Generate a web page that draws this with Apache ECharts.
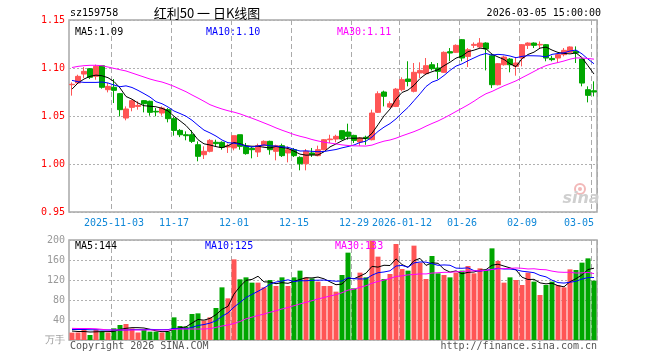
<!DOCTYPE html>
<html><head><meta charset="utf-8">
<script src="https://cdn.jsdelivr.net/npm/echarts@6/dist/echarts.min.js"></script>
<style>html,body{margin:0;padding:0;background:#fff}#c{width:660px;height:360px}</style>
</head><body><div id="c"></div>
<script>
// ---------- data ----------
const dates = [
 '2025-10-23','2025-10-24','2025-10-27','2025-10-28','2025-10-29','2025-10-30','2025-10-31',
 '2025-11-03','2025-11-04','2025-11-05','2025-11-06','2025-11-07','2025-11-10','2025-11-11','2025-11-12','2025-11-13','2025-11-14',
 '2025-11-17','2025-11-18','2025-11-19','2025-11-20','2025-11-21','2025-11-24','2025-11-25','2025-11-26','2025-11-27','2025-11-28',
 '2025-12-01','2025-12-02','2025-12-03','2025-12-04','2025-12-05','2025-12-08','2025-12-09','2025-12-10','2025-12-11','2025-12-12',
 '2025-12-15','2025-12-16','2025-12-17','2025-12-18','2025-12-19','2025-12-22','2025-12-23','2025-12-24','2025-12-25','2025-12-26',
 '2025-12-29','2025-12-30','2025-12-31','2026-01-05','2026-01-06','2026-01-07','2026-01-08','2026-01-09',
 '2026-01-12','2026-01-13','2026-01-14','2026-01-15','2026-01-16','2026-01-19','2026-01-20','2026-01-21','2026-01-22','2026-01-23',
 '2026-01-26','2026-01-27','2026-01-28','2026-01-29','2026-01-30','2026-02-02','2026-02-03','2026-02-04','2026-02-05','2026-02-06',
 '2026-02-09','2026-02-10','2026-02-11','2026-02-12','2026-02-13','2026-02-24','2026-02-25','2026-02-26','2026-02-27',
 '2026-03-02','2026-03-03','2026-03-04','2026-03-05'
];
const opens = [1.0826,1.0844,1.0937,1.0993,1.0913,1.1024,1.0774,1.0799,1.0733,1.0479,1.0590,1.0600,1.0660,1.0653,1.0549,1.0531,1.0566,1.0472,1.0350,1.0305,1.0305,1.0201,1.0097,1.0132,1.0226,1.0226,1.0177,1.0167,1.0305,1.0184,1.0163,1.0125,1.0191,1.0236,1.0132,1.0191,1.0115,1.0149,1.0069,1.0003,1.0115,1.0087,1.0149,1.0253,1.0260,1.0347,1.0333,1.0298,1.0229,1.0278,1.0253,1.0538,1.0750,1.0593,1.0600,1.0774,1.0885,1.0757,1.0948,1.0941,1.1034,1.1000,1.0955,1.1170,1.1163,1.1295,1.1121,1.1236,1.1219,1.1260,1.1128,1.0826,1.1034,1.1093,1.1017,1.1104,1.1236,1.1260,1.1240,1.1243,1.1100,1.1104,1.1139,1.1163,1.1173,1.1093,1.0774,1.0763];
const closes = [1.0830,1.0913,1.0965,1.0903,1.1017,1.0799,1.0809,1.0767,1.0566,1.0573,1.0660,1.0610,1.0628,1.0538,1.0542,1.0583,1.0472,1.0350,1.0305,1.0295,1.0236,1.0080,1.0132,1.0246,1.0212,1.0174,1.0191,1.0295,1.0184,1.0108,1.0149,1.0191,1.0236,1.0149,1.0191,1.0087,1.0149,1.0087,1.0003,1.0132,1.0097,1.0149,1.0253,1.0260,1.0288,1.0260,1.0288,1.0246,1.0271,1.0264,1.0531,1.0732,1.0705,1.0628,1.0780,1.0878,1.0860,1.0955,1.0975,1.1024,1.0993,1.0965,1.1163,1.1156,1.1236,1.1104,1.1190,1.1246,1.1260,1.1198,1.0826,1.1045,1.1114,1.1034,1.1052,1.1243,1.1260,1.1236,1.1246,1.1104,1.1087,1.1139,1.1184,1.1219,1.1156,1.0843,1.0715,1.0750];
const lows = [1.0712,1.0837,1.0896,1.0885,1.0878,1.0785,1.0746,1.0635,1.0496,1.0455,1.0549,1.0566,1.0538,1.0503,1.0497,1.0504,1.0434,1.0295,1.0280,1.0247,1.0219,1.0028,1.0052,1.0121,1.0184,1.0149,1.0115,1.0142,1.0149,1.0097,1.0059,1.0073,1.0184,1.0097,1.0038,1.0073,1.0017,1.0073,0.9934,0.9934,1.0073,1.0080,1.0142,1.0219,1.0226,1.0253,1.0253,1.0219,1.0190,1.0200,1.0246,1.0531,1.0600,1.0583,1.0593,1.0757,1.0809,1.0746,1.0896,1.0930,1.0975,1.0885,1.0948,1.1070,1.1156,1.1070,1.1010,1.1208,1.1208,1.0975,1.0791,1.0819,1.1024,1.0955,1.0920,1.1017,1.1198,1.1208,1.1208,1.1070,1.1070,1.1052,1.1121,1.1156,1.1052,1.0809,1.0642,1.0705];
const highs = [1.0850,1.0930,1.1010,1.1000,1.1035,1.1028,1.0844,1.0885,1.0740,1.0600,1.0670,1.0653,1.0665,1.0660,1.0583,1.0600,1.0583,1.0490,1.0364,1.0340,1.0351,1.0236,1.0184,1.0260,1.0253,1.0236,1.0212,1.0295,1.0305,1.0219,1.0177,1.0212,1.0246,1.0243,1.0201,1.0212,1.0184,1.0167,1.0080,1.0156,1.0167,1.0191,1.0260,1.0305,1.0305,1.0350,1.0420,1.0305,1.0280,1.0295,1.0566,1.0757,1.0764,1.0653,1.0792,1.0903,1.1070,1.1052,1.1059,1.1104,1.1062,1.1052,1.1173,1.1208,1.1246,1.1302,1.1208,1.1267,1.1312,1.1267,1.1149,1.1052,1.1128,1.1104,1.1114,1.1250,1.1267,1.1267,1.1277,1.1250,1.1128,1.1156,1.1208,1.1225,1.1225,1.1104,1.0809,1.0861];
const volumes = [14.7,15,21.3,10,21,16.7,15,23.3,30,32,23,15,20,16.7,16.7,15,16.7,45.3,28,26.7,52,53.3,38.7,45.3,64,105.3,83.3,161.3,121.3,125.3,114.7,114.7,105.3,120,108,125.3,108,125.3,138.7,125.3,123.3,116.7,108,108,96.7,130,174.7,103.3,134.7,125.3,198.7,166.7,122,132,192,142,138.7,188.7,154.7,122,168,133.3,130,125.3,134.7,138.7,148,133.3,143.3,140,183.3,158,114.7,125.3,120,110,134.7,116.7,90,110,116.7,110,105.3,141.3,140,154.7,163.3,118.7];
// moving-average values at the left edge (they depend on days before the window)
const priceMa5Head = [1.0780,1.0844,1.0885,1.0913];
const priceMa10Head = [1.0871,1.0857,1.0850,1.0850,1.0850,1.0854,1.0844,1.0823,1.0805];
const priceMa30Head = [1.1005,1.1017,1.1024,1.1028,1.1028,1.1024,1.1010,1.0996,1.0982,1.0969,1.0948,1.0927,1.0906,1.0885,1.0868,1.0854,1.0833,1.0809,1.0781,1.0753,1.0719,1.0687,1.0653,1.0618,1.0594,1.0573,1.0555,1.0540,1.0522];
const volMa5Head = [18,17,17,16];
const volMa10Head = [21,21,21,20.5,20.5,20,20,20,20];
const volMa30Head = [23.3,23,23,23,22.5,21.3,20,20,20,20,20,20,20,20,20,20,20,21.3,22,22,22,22,22,22.7,25.3,28,30,33,37];
const tickIdx = [7,17,27,37,47,55,65,75,87];
const tickLabels = ['2025-11-03','11-17','12-01','12-15','12-29','2026-01-12','01-26','02-09','03-05'];
const priceTicks = [0.95,1.00,1.05,1.10,1.15];
const volTicks = [0,40,80,120,160,200];
const volUnit = '万手';

// ---------- build ----------
function ma(arr, n, head){
  return arr.map((v,i)=>{
    if(i<head.length) return head[i];
    let s=0; for(let k=i-n+1;k<=i;k++) s+=arr[k];
    return +(s/n).toFixed(4);
  });
}
const pMa5=ma(closes,5,priceMa5Head), pMa10=ma(closes,10,priceMa10Head), pMa30=ma(closes,30,priceMa30Head);
const vMa5=ma(volumes,5,volMa5Head), vMa10=ma(volumes,10,volMa10Head), vMa30=ma(volumes,30,volMa30Head);
const last=a=>a[a.length-1];
const UP='#ff5555', DOWN='#00a600';
const kdata = opens.map((o,i)=>[o,closes[i],lows[i],highs[i]]);
const vdata = volumes.map((v,i)=>({value:v,itemStyle:{color: closes[i]>=opens[i]?UP:DOWN}}));
const tickSet = new Set(tickIdx);
const mono = "'DejaVu Sans Mono'";
const gridBorder='#a8a8a8';
const splitV = {show:true, interval:(i)=>tickSet.has(i), lineStyle:{color:'#aaa', type:[5,3], width:1}};
const splitH = {show:true, lineStyle:{color:'#b0b0b0', type:[2,2], width:1}};

const chart = echarts.init(document.getElementById('c'));
chart.setOption({
  animation:false,
  backgroundColor:'#fff',
  grid:[
    {left:69,width:528,top:20,height:192,show:true,borderColor:gridBorder,borderWidth:1.5,containLabel:false},
    {left:69,width:528,top:240,height:100,show:true,borderColor:gridBorder,borderWidth:1.5,containLabel:false}
  ],
  xAxis:[
    {type:'category',gridIndex:0,data:dates,boundaryGap:true,
     axisLine:{show:false},axisTick:{show:false},
     axisLabel:{show:true,interval:(i)=>tickSet.has(i),
       formatter:(v,i)=>tickLabels[tickIdx.indexOf(i)]||'',
       color:'#1088d8',fontFamily:'DejaVu Sans Mono',fontSize:10,margin:6,
       hideOverlap:false,showMaxLabel:true,alignMaxLabel:'right'},
     splitLine:splitV},
    {type:'category',gridIndex:1,data:dates,boundaryGap:true,
     axisLine:{show:false},axisTick:{show:false},axisLabel:{show:false},splitLine:splitV}
  ],
  yAxis:[
    {type:'value',gridIndex:0,min:priceTicks[0],max:last(priceTicks),interval:0.05,
     axisLine:{show:false},axisTick:{show:false},
     axisLabel:{color:'#ff0000',fontFamily:'DejaVu Sans Mono',fontSize:10,margin:4,formatter:v=>v.toFixed(2)},
     splitLine:splitH},
    {type:'value',gridIndex:1,min:volTicks[0],max:last(volTicks),interval:40,
     axisLine:{show:false},axisTick:{show:false},
     axisLabel:{color:'#999',fontFamily:'DejaVu Sans Mono',fontSize:10,margin:4,formatter:v=>v===0?volUnit:String(v)},
     splitLine:splitH}
  ],
  series:[
    {type:'candlestick',xAxisIndex:0,yAxisIndex:0,data:kdata,barWidth:5,
     itemStyle:{color:UP,color0:DOWN,borderColor:UP,borderColor0:DOWN,borderWidth:1}},
    {type:'line',xAxisIndex:0,yAxisIndex:0,data:pMa5,showSymbol:false,lineStyle:{color:'#000',width:1},z:5},
    {type:'line',xAxisIndex:0,yAxisIndex:0,data:pMa10,showSymbol:false,lineStyle:{color:'#0000ff',width:1},z:5},
    {type:'line',xAxisIndex:0,yAxisIndex:0,data:pMa30,showSymbol:false,lineStyle:{color:'#ff00ff',width:1},z:5},
    {type:'bar',xAxisIndex:1,yAxisIndex:1,data:vdata,barWidth:5},
    {type:'line',xAxisIndex:1,yAxisIndex:1,data:vMa5,showSymbol:false,lineStyle:{color:'#000',width:1},z:5},
    {type:'line',xAxisIndex:1,yAxisIndex:1,data:vMa10,showSymbol:false,lineStyle:{color:'#0000ff',width:1},z:5},
    {type:'line',xAxisIndex:1,yAxisIndex:1,data:vMa30,showSymbol:false,lineStyle:{color:'#ff00ff',width:1},z:5}
  ],
  graphic:[
    {type:'text',z:100,style:{x:70,y:13,text:'sz159758',fill:'#000',font:"10px 'DejaVu Sans Mono'",textAlign:'left',textVerticalAlign:'middle'}},
    {type:'text',z:100,style:{x:207,y:13,text:'红利50 一 日K线图',fill:'#000',font:"13px 'Noto Sans CJK SC'",textAlign:'center',textVerticalAlign:'middle'}},
    {type:'text',z:100,style:{x:601,y:13,text:'2026-03-05 15:00:00',fill:'#000',font:"10px 'DejaVu Sans Mono'",textAlign:'right',textVerticalAlign:'middle'}},
    {type:'text',z:100,style:{x:75,y:32,text:'MA5:'+last(pMa5).toFixed(2),fill:'#000',font:"10px 'DejaVu Sans Mono'",textAlign:'left',textVerticalAlign:'middle'}},
    {type:'text',z:100,style:{x:206,y:32,text:'MA10:'+last(pMa10).toFixed(2),fill:'#0000ff',font:"10px 'DejaVu Sans Mono'",textAlign:'left',textVerticalAlign:'middle'}},
    {type:'text',z:100,style:{x:337,y:32,text:'MA30:'+last(pMa30).toFixed(2),fill:'#ff00ff',font:"10px 'DejaVu Sans Mono'",textAlign:'left',textVerticalAlign:'middle'}},
    {type:'text',z:100,style:{x:75,y:246,text:'MA5:'+Math.round(last(vMa5)),fill:'#000',font:"10px 'DejaVu Sans Mono'",textAlign:'left',textVerticalAlign:'middle'}},
    {type:'text',z:100,style:{x:205,y:246,text:'MA10:'+Math.round(last(vMa10)),fill:'#0000ff',font:"10px 'DejaVu Sans Mono'",textAlign:'left',textVerticalAlign:'middle'}},
    {type:'text',z:100,style:{x:335,y:246,text:'MA30:'+Math.round(last(vMa30)),fill:'#ff00ff',font:"10px 'DejaVu Sans Mono'",textAlign:'left',textVerticalAlign:'middle'}},
    {type:'text',z:100,style:{x:70,y:346,text:'Copyright 2026 SINA.COM',fill:'#555',font:"10px 'DejaVu Sans Mono'",textAlign:'left',textVerticalAlign:'middle'}},
    {type:'text',z:100,style:{x:597,y:346,text:'http://finance.sina.com.cn',fill:'#555',font:"10px 'DejaVu Sans Mono'",textAlign:'right',textVerticalAlign:'middle'}},
    {type:'circle',z:1,shape:{cx:580,cy:189,r:5},style:{fill:'none',stroke:'#f2b8b8',lineWidth:2}},
    {type:'circle',z:1,shape:{cx:580,cy:189,r:2},style:{fill:'#f2b8b8'}},
    {type:'text',z:1,style:{x:581,y:199,text:'sina',fill:'#cfcfcf',font:"italic bold 16px 'DejaVu Sans'",textAlign:'center',textVerticalAlign:'middle'}}
  ]
});
</script></body></html>
